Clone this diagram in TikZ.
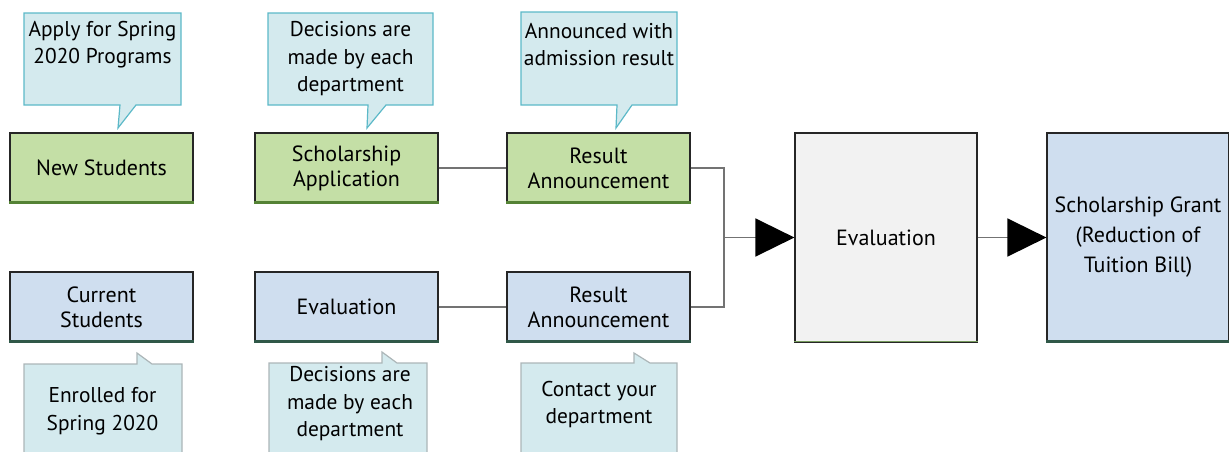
\documentclass[tikz,border=0pt]{standalone}
\usepackage{fontspec}
\setmainfont{PT Sans}
\usetikzlibrary{arrows.meta}

\definecolor{newgreen}{RGB}{196,223,166}
\definecolor{curblue}{RGB}{207,222,239}
\definecolor{evalgray}{RGB}{242,242,242}
\definecolor{notefill}{RGB}{212,234,238}
\definecolor{noteteal}{RGB}{92,185,200}
\definecolor{notegray}{RGB}{172,182,184}
\definecolor{edgegreen}{RGB}{84,130,53}
\definecolor{edgeblue}{RGB}{48,88,72}

\tikzset{
  stage/.style={draw=black!85, line width=0.6pt, minimum width=91.5pt,
    minimum height=35pt, inner sep=0pt, align=center,
    font=\fontsize{11}{12.5}\selectfont},
  newrow/.style={stage, fill=newgreen},
  currow/.style={stage, fill=curblue},
  tall/.style={stage, minimum width=91pt, minimum height=104.5pt},
  note/.style={inner sep=0pt, align=center, font=\fontsize{10.7}{13.75}\selectfont},
  topnote/.style={fill=notefill, draw=noteteal, line width=0.6pt},
  botnote/.style={fill=notefill, draw=notegray, line width=0.6pt},
  link/.style={draw=black!55, line width=0.75pt},
  bigtip/.style={-{Triangle[length=19.5pt,width=19pt,color=black,fill=black]}},
  lowedge/.style={line width=1.5pt}
}

\begin{document}
\begin{tikzpicture}[x=0.5pt,y=-0.5pt]
\useasboundingbox (0,0) rectangle (1229,451);

%Callouts above the green row
\filldraw[topnote] (24,13) -- (181,13) -- (181,105) -- (136,105) -- (118,128)
  -- (120,105) -- (24,105) -- cycle;
\filldraw[topnote] (268,13) -- (433,13) -- (433,105) -- (386,105) -- (367,128)
  -- (368,105) -- (268,105) -- cycle;
\filldraw[topnote] (521,12) -- (677,12) -- (677,105) -- (632,105) -- (616,128)
  -- (617,105) -- (521,105) -- cycle;

%Callouts below the blue row
\filldraw[botnote] (24,364) -- (137,364) -- (137,353) -- (152,364) -- (182,364)
  -- (182,462) -- (24,462) -- cycle;
\filldraw[botnote] (269,363) -- (382,363) -- (382,352) -- (397,363) -- (427,363)
  -- (427,462) -- (269,462) -- cycle;
\filldraw[botnote] (521,363) -- (634,363) -- (634,353) -- (650,363) -- (677,363)
  -- (677,462) -- (521,462) -- cycle;

\node[note] (applyNote) at (102.5,44.5) {Apply for Spring\\2020 Programs};
\node[note] (deptNoteA) at (350.5,59) {Decisions are\\made by each\\department};
\node[note] (admitNote) at (599,44.5) {Announced with\\admission result};
\node[note] (enrollNote) at (102.5,411) {Enrolled for\\Spring 2020};
\node[note] (deptNoteB) at (350,404) {Decisions are\\made by each\\department};
\node[note] (contactNote) at (599,404.5) {Contact your\\department};

%Stage boxes
\node[newrow] (newStu) at (101.5,168) {New Students};
\node[newrow] (schApp) at (346.5,168) {Scholarship\\Application};
\node[newrow] (resNew) at (598.5,168) {Result\\Announcement};
\node[currow] (curStu) at (101.5,307) {Current\\Students};
\node[currow] (evalCur) at (346.5,307) {Evaluation};
\node[currow] (resCur) at (598.5,307) {Result\\Announcement};
\node[tall, fill=evalgray] (evalMain) at (886,237.5) {Evaluation};
\node[tall, fill=curblue, font=\fontsize{11}{15}\selectfont] (grant) at (1138,237.5)
  {Scholarship Grant\\(Reduction of\\Tuition Bill)};

%Bottom edges
\draw[lowedge, edgegreen] ([yshift=0.75pt]newStu.south west) -- ([yshift=0.75pt]newStu.south east);
\draw[lowedge, edgegreen] ([yshift=0.75pt]schApp.south west) -- ([yshift=0.75pt]schApp.south east);
\draw[lowedge, edgegreen] ([yshift=0.75pt]resNew.south west) -- ([yshift=0.75pt]resNew.south east);
\draw[lowedge, edgeblue] ([yshift=0.75pt]curStu.south west) -- ([yshift=0.75pt]curStu.south east);
\draw[lowedge, edgeblue] ([yshift=0.75pt]evalCur.south west) -- ([yshift=0.75pt]evalCur.south east);
\draw[lowedge, edgeblue] ([yshift=0.75pt]resCur.south west) -- ([yshift=0.75pt]resCur.south east);
\draw[line width=0.8pt, edgegreen!80] ([yshift=0.5pt]evalMain.south west) -- ([yshift=0.5pt]evalMain.south east);
\draw[lowedge, edgeblue] ([yshift=0.75pt]grant.south west) -- ([yshift=0.75pt]grant.south east);

%Connectors
\coordinate (join) at (724,237.5);
\draw[link] (schApp) -- (resNew);
\draw[link] (evalCur) -- (resCur);
\draw[link] (resNew.east) -| (join) |- (resCur.east);
\draw[link, bigtip] (join) -- (evalMain.west);
\draw[link, bigtip] (evalMain) -- (grant);

\end{tikzpicture}
\end{document}
